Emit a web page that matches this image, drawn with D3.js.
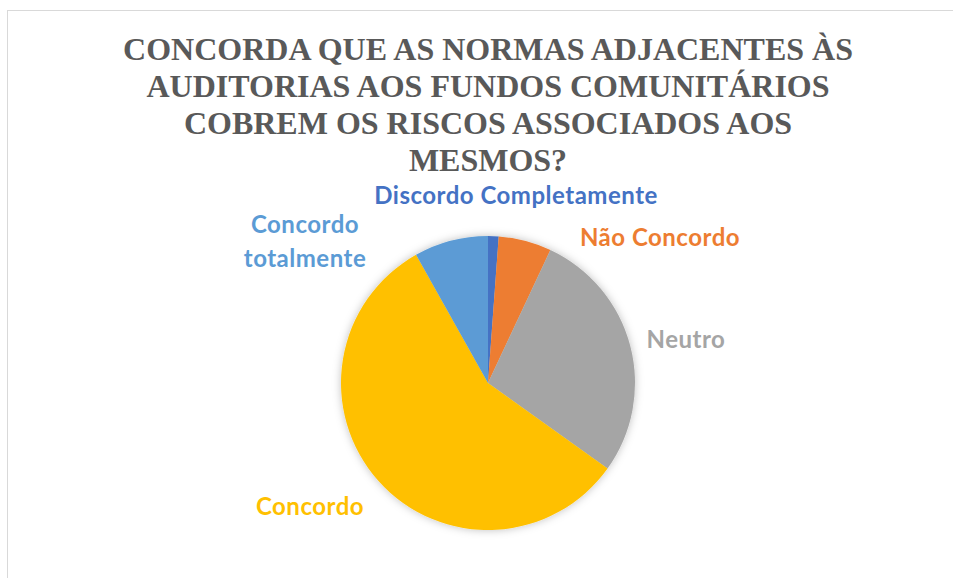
<!DOCTYPE html>
<html lang="pt">
<head>
<meta charset="UTF-8">
<title>Concorda que as normas...</title>
<script src="https://d3js.org/d3.v7.min.js"></script>
<style>
  body { margin: 0; background: #fff; }
</style>
</head>
<body>
<div id="chart"></div>
<script>
// respostas (contagens)
var categorias = ["Discordo Completamente", "Não Concordo", "Neutro", "Concordo", "Concordo totalmente"];
var valores = [1, 5, 24, 49, 7];
var cores = ["#4472C4", "#ED7D31", "#A5A5A5", "#FFC000", "#5B9BD5"];
var titulo = ["CONCORDA QUE AS NORMAS ADJACENTES ÀS",
              "AUDITORIAS AOS FUNDOS COMUNITÁRIOS",
              "COBREM OS RISCOS ASSOCIADOS AOS",
              "MESMOS?"];

var W = 953, H = 578;
var cx = 488, cy = 383, r = 147;

// ajuste manual das etiquetas (como o "best fit" do Excel)
var etiquetas = [
  { dx: 28,   dy: -187, linhas: ["Discordo Completamente"] },
  { dx: 172,  dy: -145, linhas: ["Não Concordo"] },
  { dx: 198,  dy: -43,  linhas: ["Neutro"] },
  { dx: -178, dy: 124,  linhas: ["Concordo"] },
  { dx: -183, dy: -158, linhas: ["Concordo", "totalmente"] }
];

var svg = d3.select("#chart").append("svg")
    .attr("width", W).attr("height", H);

svg.append("rect")
    .attr("x", 7.5).attr("y", 10.5)
    .attr("width", W + 10).attr("height", H + 10)
    .attr("fill", "#fff")
    .attr("stroke", "#d9d9d9");

var defs = svg.append("defs");
var f = defs.append("filter").attr("id", "sombra")
    .attr("x", "-20%").attr("y", "-20%").attr("width", "140%").attr("height", "140%");
f.append("feDropShadow").attr("dx", 0).attr("dy", 0)
    .attr("stdDeviation", 4).attr("flood-color", "#000").attr("flood-opacity", 0.25);

svg.append("g")
  .selectAll("text")
  .data(titulo)
  .enter()
  .append("text")
    .attr("x", cx)
    .attr("y", (d, i) => 60 + i * 37)
    .attr("text-anchor", "middle")
    .style("font-family", "'Liberation Serif', 'Times New Roman', serif")
    .style("font-weight", "bold")
    .style("font-size", "32px")
    .style("fill", "#595959")
    .text(d => d);

var pie = d3.pie().sort(null).value(d => d);
var arc = d3.arc().innerRadius(0).outerRadius(r);

var g = svg.append("g").attr("transform", "translate(" + cx + "," + cy + ")");

g.append("g").attr("filter", "url(#sombra)")
  .selectAll("path")
  .data(pie(valores))
  .enter()
  .append("path")
    .attr("d", arc)
    .attr("fill", (d, i) => cores[i]);

var lab = g.selectAll("text.lab")
  .data(etiquetas)
  .enter()
  .append("text")
    .attr("class", "lab")
    .attr("text-anchor", "middle")
    .style("font-family", "Lato, 'Open Sans', sans-serif")
    .style("font-weight", "bold")
    .style("font-size", "24px")
    .style("letter-spacing", "0.5px")
    .style("fill", (d, i) => cores[i]);

lab.selectAll("tspan")
  .data(d => d.linhas.map(l => ({ l: l, p: d })))
  .enter()
  .append("tspan")
    .attr("x", d => d.p.dx)
    .attr("y", (d, i) => d.p.dy + 8 + i * 34)
    .text(d => d.l);
</script>
</body>
</html>
